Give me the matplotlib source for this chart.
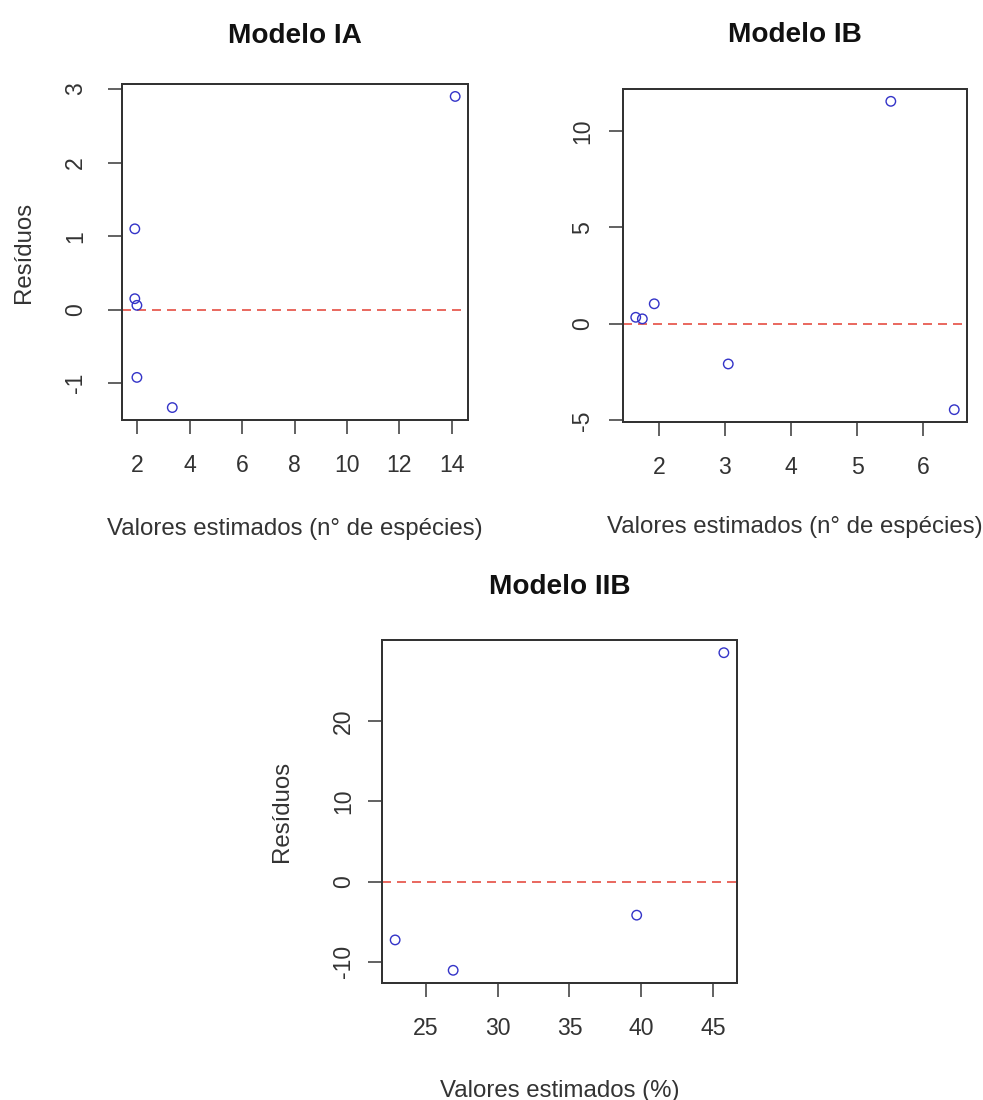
import matplotlib
matplotlib.use("Agg")
import matplotlib.pyplot as plt

# residuals vs fitted values for the three models
ia_fit = [14.13, 1.90, 1.90, 1.98, 1.98, 3.33]
ia_res = [2.90, 1.10, 0.15, 0.06, -0.92, -1.33]

ib_fit = [5.51, 1.65, 1.75, 1.93, 3.05, 6.47]
ib_res = [11.54, 0.34, 0.26, 1.04, -2.08, -4.45]

iib_fit = [45.75, 22.86, 26.90, 39.68]
iib_res = [28.55, -7.29, -11.08, -4.20]

ia_xticks = [2, 4, 6, 8, 10, 12, 14]
ia_yticks = [-1, 0, 1, 2, 3]
ib_xticks = [2, 3, 4, 5, 6]
ib_yticks = [-5, 0, 5, 10]
iib_xticks = [25, 30, 35, 40, 45]
iib_yticks = [-10, 0, 10, 20]

plt.rcParams['font.family'] = ['Liberation Sans', 'DejaVu Sans']
plt.rcParams['lines.scale_dashes'] = False
plt.rcParams['axes.unicode_minus'] = False

W, H = 983, 1100
fig = plt.figure(figsize=(W / 72, H / 72), dpi=72)


def px_axes(left, top, right, bottom):
    return fig.add_axes([left / W, 1 - bottom / H, (right - left) / W, (bottom - top) / H])


def resid_panel(ax, fit, res, xt, yt, title, xlabel, ylabel=None,
                title_pad=40, ytick_pad=20, xlabel_pad=40, ylabel_pad=28):
    ax.scatter(fit, res, s=90, facecolors='none', edgecolors='#3434c8', linewidths=1.4, zorder=3)
    ax.margins(0.04)
    ax.axhline(0, color='#e4473c', lw=1.6, dashes=(9, 6), zorder=2)
    ax.set_xticks(xt)
    ax.set_yticks(yt)
    ax.tick_params(length=14, width=1.5, color='#333333', labelsize=23, labelcolor='#333333')
    ax.tick_params(axis='x', pad=20)
    ax.tick_params(axis='y', pad=ytick_pad)
    for lab in ax.get_yticklabels():
        lab.set_rotation(90)
        lab.set_va('center')
    for s in ax.spines.values():
        s.set_linewidth(2)
        s.set_color('#333333')
    ax.set_title(title, fontsize=28, fontweight='bold', pad=title_pad, color='#111111')
    ax.set_xlabel(xlabel, fontsize=24, labelpad=xlabel_pad, color='#333333')
    if ylabel:
        ax.set_ylabel(ylabel, fontsize=24, labelpad=ylabel_pad, color='#333333')


ax1 = px_axes(122, 84, 468, 420)
resid_panel(ax1, ia_fit, ia_res, ia_xticks, ia_yticks, 'Modelo IA',
            'Valores estimados (n° de espécies)', 'Resíduos',
            title_pad=41, ytick_pad=21, xlabel_pad=41, ylabel_pad=29)

ax2 = px_axes(623, 89, 967, 422)
resid_panel(ax2, ib_fit, ib_res, ib_xticks, ib_yticks, 'Modelo IB',
            'Valores estimados (n° de espécies)',
            title_pad=47, ytick_pad=15, xlabel_pad=37)

ax3 = px_axes(382, 640, 737, 983)
resid_panel(ax3, iib_fit, iib_res, iib_xticks, iib_yticks, 'Modelo IIB',
            'Valores estimados (%)', 'Resíduos',
            title_pad=46, ytick_pad=13, xlabel_pad=40, ylabel_pad=39)

fig.savefig('out.png', dpi=72, facecolor='white')
